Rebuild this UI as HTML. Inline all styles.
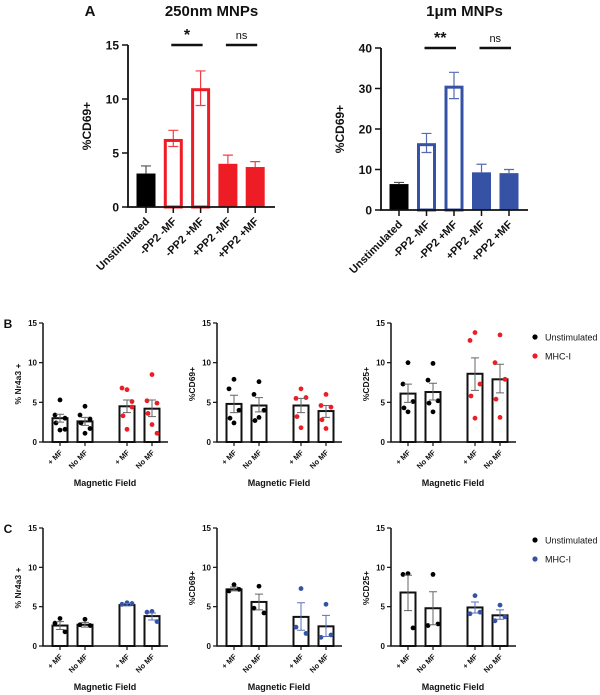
<!DOCTYPE html>
<html><head><meta charset="utf-8"><style>
body{margin:0;background:#fff}
svg{display:block;font-family:"Liberation Sans",sans-serif;font-weight:bold}
</style></head><body>
<svg id="fig" width="600" height="695" viewBox="0 0 600 695" xmlns="http://www.w3.org/2000/svg"></svg>
<script>
// Panel A data
const aCategories = ["Unstimulated","-PP2 -MF","-PP2 +MF","+PP2 -MF","+PP2 +MF"];
const a250Values = [3.1, 6.3, 11.0, 4.0, 3.7];
const a250Low = [3.1, 5.6, 9.4, 4.0, 3.7];
const a250High = [3.8, 7.1, 12.6, 4.8, 4.2];
const a250Ticks = [0, 5, 10, 15];
const a1Values = [6.4, 16.5, 30.7, 9.3, 9.1];
const a1Low = [6.4, 14.2, 27.5, 9.3, 9.1];
const a1High = [6.8, 18.9, 34.0, 11.3, 10.0];
const a1Ticks = [0, 10, 20, 30, 40];
// Panels B/C
const smallCategories = ["+ MF","No MF","+ MF","No MF"];
const smallTicks = [0, 5, 10, 15];
const bNr4a3Values = [3.0, 2.6, 4.5, 4.2];
const bNr4a3Low = [2.5, 2.1, 3.7, 3.2];
const bNr4a3High = [3.5, 3.1, 5.3, 5.3];
const bNr4a3Points = [[5.3,3.4,3.0,2.4,1.5,1.6],[4.5,3.4,2.9,2.4,1.1,1.7],[6.6,6.8,5.1,3.3,1.6,4.4],[8.5,5.2,4.9,3.6,2.2,1.1]];
const bCD69Values = [4.8, 4.6, 4.6, 3.9];
const bCD69Low = [3.7, 3.8, 3.7, 3.1];
const bCD69High = [5.9, 5.6, 5.5, 4.6];
const bCD69Points = [[7.9,6.7,4.0,3.0,2.4],[7.6,6.0,4.0,2.7,3.1],[6.7,5.5,5.6,3.2,1.8],[6.0,4.6,4.4,2.8,1.7]];
const bCD25Values = [6.1, 6.3, 8.6, 7.9];
const bCD25Low = [5.0, 5.3, 6.5, 6.2];
const bCD25High = [7.3, 7.4, 10.6, 9.8];
const bCD25Points = [[10,7.3,5.1,4.3,3.8],[9.9,7.8,5.2,4.9,3.8],[13.8,12.8,7.3,5.8,3.0],[13.5,10.0,7.9,5.4,3.1]];
const cNr4a3Values = [2.6, 2.7, 5.2, 3.8];
const cNr4a3Low = [2.1, 2.4, 5.1, 3.3];
const cNr4a3High = [3.1, 3.0, 5.4, 4.2];
const cNr4a3Points = [[3.5,2.9,1.8],[3.4,2.7,2.6],[5.5,5.3,5.4],[4.4,4.3,3.1]];
const cCD69Values = [7.2, 5.6, 3.7, 2.5];
const cCD69Low = [7.0, 4.6, 2.0, 1.2];
const cCD69High = [7.5, 6.6, 5.5, 3.9];
const cCD69Points = [[7.8,7.0,7.2],[7.6,4.8,4.2],[7.3,2.4,1.6],[5.3,1.1,1.4]];
const cCD25Values = [6.8, 4.8, 4.9, 3.9];
const cCD25Low = [4.5, 2.7, 4.2, 3.4];
const cCD25High = [9.0, 6.9, 5.6, 4.6];
const cCD25Points = [[9.2,9.1,2.3],[9.1,2.6,2.8],[6.4,4.1,4.3],[5.2,3.2,3.7]];

const svg = document.getElementById('fig');
const NS = 'http://www.w3.org/2000/svg';
function mk(tag, attrs, parent, txt){
  const e = document.createElementNS(NS, tag);
  for (const k in attrs) e.setAttribute(k, attrs[k]);
  if (txt !== undefined) e.textContent = txt;
  (parent || svg).appendChild(e);
  return e;
}
function txt(x,y,s,size,anchor,parent,name,rot){
  const t = mk('text',{x:x,y:y,'font-size':size,'text-anchor':anchor||'middle',fill:'#111'},parent,s);
  if (rot) t.setAttribute('transform','rotate('+rot+' '+x+' '+y+')');
  
  
  return t;
}
const RED = '#ee1c25', BLUE = '#3652a5';

function panelA(o){
  const g = mk('g',{});
  
  
  const y = v => o.y0 - (v / o.max) * (o.y0 - o.yTop);
  const x = i => o.x0 + o.first + i * o.step;
  o.values.forEach((v,i)=>{
    const col = i===0 ? '#000' : o.color;
    const hollow = i===1 || i===2;
    const r = mk('rect',{x:x(i)-o.bw/2+(hollow?1.5:0),y:y(v)+(hollow?1.5:0),width:o.bw-(hollow?3:0),height:Math.max(0,o.y0-y(v)-(hollow?1.5:0)),
      fill:hollow?'#fff':col,stroke:hollow?col:'none','stroke-width':3},g);
    
    
    const ec = i===0 ? '#333' : o.color;
    const e = mk('path',{d:'M'+x(i)+' '+y(o.low[i])+'V'+y(o.high[i])+'M'+(x(i)-5)+' '+y(o.high[i])+'H'+(x(i)+5)+(hollow?'M'+(x(i)-5)+' '+y(o.low[i])+'H'+(x(i)+5):''),stroke:ec,'stroke-width':1.2,fill:'none',opacity:0.85},g);
    
    
    mk('line',{x1:x(i),x2:x(i),y1:o.y0,y2:o.y0+6,stroke:'#111','stroke-width':1.5},g);
    txt(x(i)+4,o.y0+15,aCategories[i],11,'end',g,'x-tick-label',-45);
  });
  const ax = mk('path',{d:'M'+o.x0+' '+o.yTop+'V'+o.y0+'H'+o.xEnd,stroke:'#111','stroke-width':1.8,fill:'none'},g);
  
  
  o.ticks.forEach(t=>{
    mk('line',{x1:o.x0-6,x2:o.x0,y1:y(t),y2:y(t),stroke:'#111','stroke-width':1.5},g);
    txt(o.x0-9,y(t)+4.5,String(t),12,'end',g,'y-tick-label');
  });
  txt(o.x0-37,(o.y0+o.yTop)/2,'%CD69+',12,'middle',g,'y-axis-title',-90);
  txt((o.x0+o.xEnd)/2+10,16,o.title,15,'middle',g,'panel-title');
  // significance
  const sy = y(o.max) ;
  mk('line',{x1:x(1)-2,x2:x(2)+2,y1:sy,y2:sy,stroke:'#111','stroke-width':2.5},g);
  txt((x(1)+x(2))/2,sy-5,o.star,16,'middle',g,'significance-star');
  mk('line',{x1:x(3)-2,x2:x(4)+2,y1:sy,y2:sy,stroke:'#111','stroke-width':2.5},g);
  const ns = txt((x(3)+x(4))/2,sy-6,'ns',11,'middle',g,'significance-ns');
  ns.setAttribute('font-weight','normal');
}
panelA({name:'chart-a-250nm',x0:128,xEnd:275,y0:207,yTop:45,max:15,first:18,step:27.3,bw:19,
  values:a250Values,low:a250Low,high:a250High,ticks:a250Ticks,color:RED,title:'250nm MNPs',star:'*'});
panelA({name:'chart-a-1um',x0:381,xEnd:528,y0:210,yTop:48,max:40,first:18,step:27.5,bw:19,
  values:a1Values,low:a1Low,high:a1High,ticks:a1Ticks,color:BLUE,title:'1\u03bcm MNPs',star:'**'});
txt(90,16,'A',15,'middle',null,'panel-label-a');

const jitter = [[0,-5,5,-4,0,5],[0,-5,5,-5,5,0]];
function small(o){
  const g = mk('g',{});
  
  
  const y = v => o.y0 - (v/15)*(o.y0-o.yTop);
  const offs = [17,42,84,109];
  smallCategories.forEach((c,i)=>{
    const cx = o.x0 + offs[i];
    const v = o.values[i];
    const r = mk('rect',{x:cx-7.5,y:y(v),width:15,height:o.y0-y(v),fill:'#fff',stroke:'#111','stroke-width':2},g);
    
    
    const col = i<2 ? '#000' : o.color;
    o.points[i].forEach((p,j)=>{
      const pts = o.points[i].length;
      const dx = pts===3 ? [0,-5,5][j] : jitter[0][j%6];
      const d = mk('circle',{cx:cx+dx,cy:y(p),r:2.4,fill:col},g);
      
      
    });
    const ec = (i>=2 && o.color===BLUE) ? '#5a72b8' : '#666';
    const e = mk('path',{d:'M'+cx+' '+y(o.low[i])+'V'+y(o.high[i])+'M'+(cx-4)+' '+y(o.high[i])+'H'+(cx+4)+'M'+(cx-4)+' '+y(o.low[i])+'H'+(cx+4),stroke:ec,'stroke-width':1,fill:'none'},g);
    
    
    mk('line',{x1:cx,x2:cx,y1:o.y0,y2:o.y0+4,stroke:'#111','stroke-width':1.2},g);
    txt(cx+3,o.y0+11,c,7.5,'end',g,'x-tick-label',-45);
  });
  const ax = mk('path',{d:'M'+o.x0+' '+o.yTop+'V'+o.y0+'H'+(o.x0+125),stroke:'#111','stroke-width':1.5,fill:'none'},g);
  
  
  smallTicks.forEach(t=>{
    mk('line',{x1:o.x0-4,x2:o.x0,y1:y(t),y2:y(t),stroke:'#111','stroke-width':1.2},g);
    txt(o.x0-6,y(t)+3,String(t),8,'end',g,'y-tick-label');
  });
  txt(o.x0-22,o.y0-58,o.ylabel,8.5,'middle',g,'y-axis-title',-90);
  txt(o.x0+62,o.y0+44,'Magnetic Field',9,'middle',g,'x-axis-title');
}
small({name:'chart-b-nr4a3',x0:43,y0:442,yTop:323,values:bNr4a3Values,low:bNr4a3Low,high:bNr4a3High,points:bNr4a3Points,color:RED,ylabel:'% Nr4a3 +'});
small({name:'chart-b-cd69',x0:217,y0:442,yTop:323,values:bCD69Values,low:bCD69Low,high:bCD69High,points:bCD69Points,color:RED,ylabel:'%CD69+'});
small({name:'chart-b-cd25',x0:391,y0:442,yTop:323,values:bCD25Values,low:bCD25Low,high:bCD25High,points:bCD25Points,color:RED,ylabel:'%CD25+'});
small({name:'chart-c-nr4a3',x0:43,y0:646,yTop:528,values:cNr4a3Values,low:cNr4a3Low,high:cNr4a3High,points:cNr4a3Points,color:BLUE,ylabel:'% Nr4a3 +'});
small({name:'chart-c-cd69',x0:217,y0:646,yTop:528,values:cCD69Values,low:cCD69Low,high:cCD69High,points:cCD69Points,color:BLUE,ylabel:'%CD69+'});
small({name:'chart-c-cd25',x0:391,y0:646,yTop:528,values:cCD25Values,low:cCD25Low,high:cCD25High,points:cCD25Points,color:BLUE,ylabel:'%CD25+'});
txt(8,328,'B',12,'middle',null,'panel-label-b');
txt(8,533,'C',12,'middle',null,'panel-label-c');

function legend(y1,color,name){
  const g = mk('g',{});
  
  
  mk('circle',{cx:535,cy:y1,r:2.6,fill:'#000'},g);
  const a = txt(545,y1+3.5,'Unstimulated',9,'start',g,'legend-entry-unstimulated');
  a.setAttribute('font-weight','normal');
  mk('circle',{cx:535,cy:y1+19,r:2.6,fill:color},g);
  const b = txt(545,y1+22.5,'MHC-I',9,'start',g,'legend-entry-mhc-i');
  b.setAttribute('font-weight','normal');
}
legend(337,RED,'legend-b');
legend(540,BLUE,'legend-c');
</script>
</body></html>
